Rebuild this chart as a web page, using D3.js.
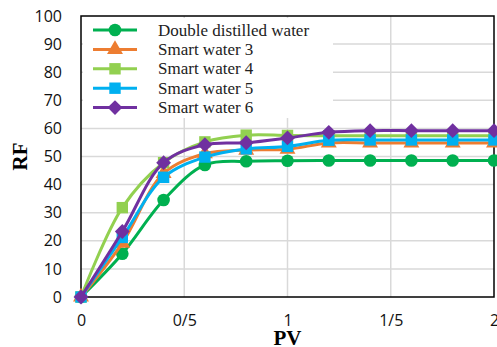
<!DOCTYPE html>
<html>
<head>
<meta charset="utf-8">
<script src="https://cdn.jsdelivr.net/npm/d3@7"></script>
<style>
  body { margin: 0; background: #fff; }
</style>
</head>
<body>
<div id="chart"></div>
<script>
// data
const pv = [0, 0.2, 0.4, 0.6, 0.8, 1.0, 1.2, 1.4, 1.6, 1.8, 2.0];
const seriesNames = ["Double distilled water", "Smart water 3", "Smart water 4", "Smart water 5", "Smart water 6"];
const distilled = [0, 15.4, 34.5, 47, 48.3, 48.5, 48.6, 48.6, 48.6, 48.6, 48.6];
const smart3 = [0, 19.2, 44, 51, 52.3, 52.6, 54.8, 54.8, 54.8, 54.8, 54.8];
const smart4 = [0, 31.8, 47.8, 55.2, 57.6, 57.5, 57.4, 57.4, 57.4, 57.4, 57.4];
const smart5 = [0, 21.2, 42.6, 49.8, 52.7, 53.6, 55.8, 55.9, 55.9, 55.9, 55.9];
const smart6 = [0, 23.3, 47.8, 54.2, 54.9, 56.6, 58.6, 59.2, 59.2, 59.2, 59.2];
const yTicks = [0, 10, 20, 30, 40, 50, 60, 70, 80, 90, 100];
const xTicks = [0, 0.5, 1, 1.5, 2];
const xTickLabels = ["0", "0/5", "1", "1/5", "2"];

const allSeries = [distilled, smart3, smart4, smart5, smart6];
const colors = ["#00b050", "#ed7d31", "#92d050", "#00b0f0", "#7030a0"];
const shapes = [d3.symbolCircle, d3.symbolTriangle, d3.symbolSquare, d3.symbolSquare, d3.symbolSquare];
const sizes = [125, 110, 130, 130, 110];
const rotations = [0, 0, 0, 0, 45];

const width = 497, height = 347;
const margin = {left: 81, right: 3, top: 16, bottom: 50};

const svg = d3.select("#chart").append("svg")
  .attr("width", width)
  .attr("height", height);

const x = d3.scaleLinear().domain([0, 2]).range([margin.left, width - margin.right]);
const y = d3.scaleLinear().domain([0, 100]).range([height - margin.bottom, margin.top]);

// gridlines
svg.append("g")
  .selectAll("line.h")
  .data(yTicks.slice(1, -1))
  .enter().append("line")
  .attr("x1", x(0)).attr("x2", x(2))
  .attr("y1", d => y(d)).attr("y2", d => y(d))
  .attr("stroke", "#d9d9d9").attr("stroke-width", 1.5);

svg.append("g")
  .selectAll("line.v")
  .data(xTicks.slice(1, -1))
  .enter().append("line")
  .attr("x1", d => x(d)).attr("x2", d => x(d))
  .attr("y1", y(0)).attr("y2", y(100))
  .attr("stroke", "#d9d9d9").attr("stroke-width", 1.5);

// legend box (covers gridlines)
svg.append("rect")
  .attr("x", 83).attr("y", 18)
  .attr("width", 250).attr("height", 100)
  .attr("fill", "#fff");

// frame
svg.append("rect")
  .attr("x", x(0)).attr("y", y(100))
  .attr("width", x(2) - x(0)).attr("height", y(0) - y(100))
  .attr("fill", "none").attr("stroke", "#000").attr("stroke-width", 1.5);

// axes
const yAxis = d3.axisLeft(y).tickValues(yTicks).tickSize(0).tickPadding(19);
svg.append("g")
  .attr("transform", "translate(" + x(0) + ",0)")
  .call(yAxis)
  .call(g => g.select(".domain").remove())
  .selectAll("text")
  .style("font-family", "'Open Sans', sans-serif")
  .style("font-size", "16px")
  .attr("fill", "#111");

const xAxis = d3.axisBottom(x).tickValues(xTicks).tickSize(0).tickPadding(18)
  .tickFormat((d, i) => xTickLabels[i]);
svg.append("g")
  .attr("transform", "translate(0," + y(0) + ")")
  .call(xAxis)
  .call(g => g.select(".domain").remove())
  .selectAll("text")
  .style("font-family", "'Open Sans', sans-serif")
  .style("font-size", "16px")
  .attr("fill", "#111");

// axis titles
svg.append("text")
  .attr("transform", "translate(27," + y(50) + ") rotate(-90)")
  .attr("text-anchor", "middle")
  .style("font-family", "'Liberation Serif', serif")
  .style("font-weight", "bold")
  .style("font-size", "21px")
  .text("RF");

svg.append("text")
  .attr("x", x(1))
  .attr("y", 345)
  .attr("text-anchor", "middle")
  .style("font-family", "'Liberation Serif', serif")
  .style("font-weight", "bold")
  .style("font-size", "21px")
  .text("PV");

// series
const line = d3.line()
  .x((d, i) => x(pv[i]))
  .y(d => y(d))
  .curve(d3.curveCatmullRom);

allSeries.forEach((vals, s) => {
  svg.append("path")
    .datum(vals)
    .attr("d", line)
    .attr("fill", "none")
    .attr("stroke", colors[s])
    .attr("stroke-width", 3);

  svg.append("g")
    .selectAll("path")
    .data(vals)
    .enter().append("path")
    .attr("transform", (d, i) => "translate(" + x(pv[i]) + "," + y(d) + ") rotate(" + rotations[s] + ")")
    .attr("d", d3.symbol().type(shapes[s]).size(sizes[s]))
    .attr("fill", colors[s]);
});

// legend
const legend = svg.append("g");
seriesNames.forEach((name, s) => {
  const ly = 30 + s * 19.4;
  legend.append("line")
    .attr("x1", 93).attr("x2", 137)
    .attr("y1", ly).attr("y2", ly)
    .attr("stroke", colors[s]).attr("stroke-width", 3);
  legend.append("path")
    .attr("transform", "translate(115," + ly + ") rotate(" + rotations[s] + ")")
    .attr("d", d3.symbol().type(shapes[s]).size(sizes[s]))
    .attr("fill", colors[s]);
  legend.append("text")
    .attr("x", 158)
    .attr("y", ly + 5.5)
    .style("font-family", "'Liberation Serif', serif")
    .style("font-size", "17px")
    .attr("fill", "#222")
    .text(name);
});
</script>
</body>
</html>
